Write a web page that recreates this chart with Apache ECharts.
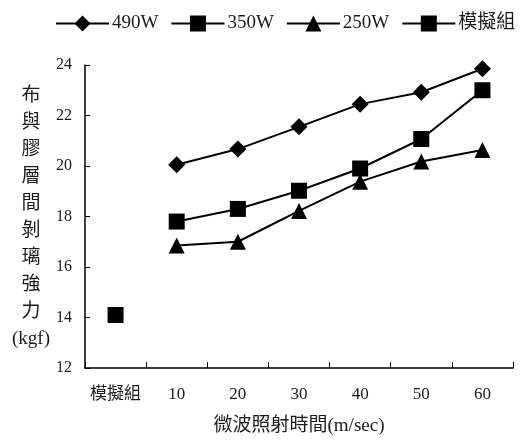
<!DOCTYPE html>
<html>
<head>
<meta charset="utf-8">
<script src="https://cdn.jsdelivr.net/npm/echarts@6/dist/echarts.min.js"></script>
<style>html,body{margin:0;padding:0;background:#fff;}#c{width:526px;height:442px;}</style>
</head>
<body>
<div id="c"></div>
<script>
const categories = ['模擬組', '10', '20', '30', '40', '50', '60'];
const s490 = [null, 20.05, 20.67, 21.55, 22.45, 22.92, 23.85];
const s350 = [null, 17.8, 18.3, 19.02, 19.9, 21.07, 23.0];
const s250 = [null, 16.85, 17.0, 18.22, 19.38, 20.18, 20.63];
const sSim = [14.1, null, null, null, null, null, null];
const yTicks = { min: 12, max: 24, interval: 2 };
const seriesNames = ['490W', '350W', '250W', '模擬組'];
const yTitle = ['布', '與', '膠', '層', '間', '剝', '璃', '強', '力', '(kgf)'];
const xTitle = '微波照射時間(m/sec)';

const FONT = "'Times New Roman', 'Liberation Serif', 'DejaVu Serif', 'Noto Sans CJK TC', serif";
const TXT = '#1a1a1a';

function mk(name, data, symbol, size) {
  return {
    name: name, type: 'line', data: data, symbol: symbol, symbolSize: size,
    connectNulls: false,
    lineStyle: { color: '#000', width: 2 },
    itemStyle: { color: '#000' },
    emphasis: { disabled: true },
    animation: false
  };
}

const chart = echarts.init(document.getElementById('c'), null, { renderer: 'canvas' });
chart.setOption({
  backgroundColor: '#fff',
  animation: false,
  textStyle: { fontFamily: FONT, color: TXT },
  legend: {
    left: 50, top: 9, width: 476,
    itemWidth: 53, itemHeight: 20, itemGap: 12,
    textStyle: { fontFamily: FONT, fontSize: 19, color: TXT, padding: [0, 0, 0, -2] },
    data: seriesNames
  },
  grid: { left: 85, right: 13, top: 65, bottom: 74, containLabel: false },
  xAxis: {
    type: 'category', data: categories, boundaryGap: true,
    axisLine: { show: true, lineStyle: { color: '#000', width: 1.5 } },
    axisTick: { show: true, inside: true, length: 6, interval: 0, lineStyle: { color: '#000' } },
    axisLabel: { fontFamily: FONT, fontSize: 17, color: TXT, margin: 18, interval: 0 },
    name: xTitle, nameLocation: 'middle', nameGap: 49,
    nameTextStyle: { fontFamily: FONT, fontSize: 19, color: TXT }
  },
  yAxis: {
    type: 'value', min: yTicks.min, max: yTicks.max, interval: yTicks.interval,
    axisLine: { show: true, lineStyle: { color: '#000', width: 1.5 } },
    axisTick: { show: true, inside: true, length: 5, lineStyle: { color: '#000' } },
    axisLabel: { fontFamily: FONT, fontSize: 16, color: TXT, margin: 13 },
    splitLine: { show: false }
  },
  graphic: [{
    type: 'text', x: 31, y: 218,
    style: {
      text: yTitle.join('\n'), fontFamily: FONT, fontSize: 19, lineHeight: 27,
      fill: TXT, align: 'center', verticalAlign: 'middle'
    }
  }],
  series: [
    mk(seriesNames[0], s490, 'diamond', 17),
    mk(seriesNames[1], s350, 'rect', 16),
    mk(seriesNames[2], s250, 'triangle', 16),
    mk(seriesNames[3], sSim, 'rect', 16)
  ]
});
</script>
</body>
</html>
